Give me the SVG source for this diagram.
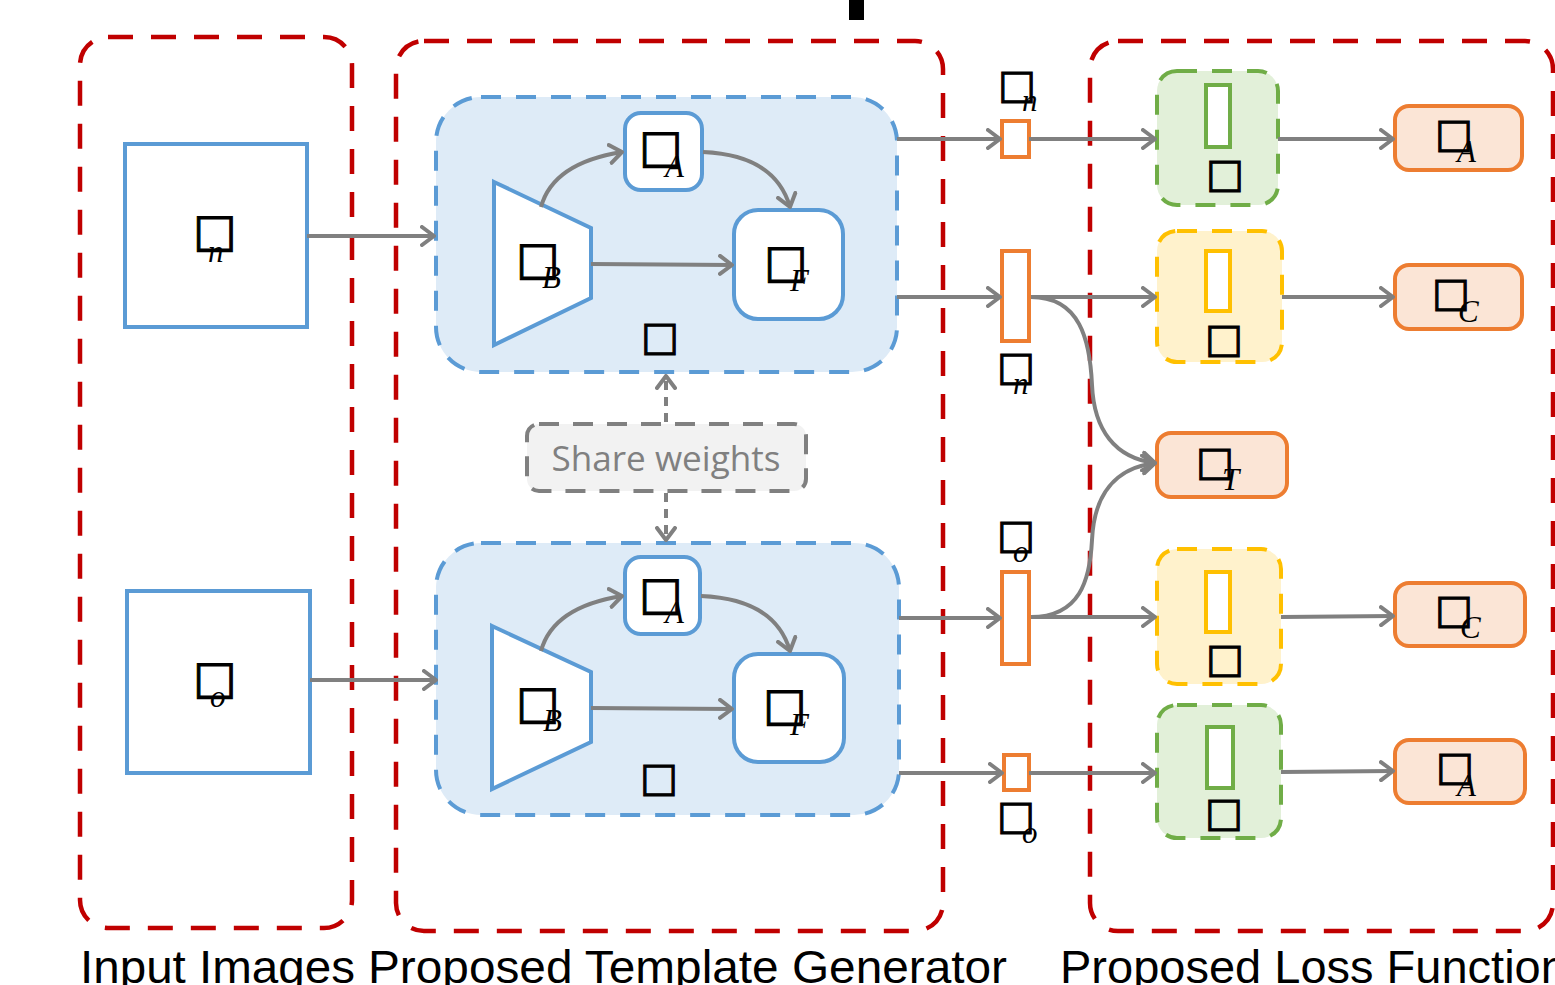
<svg xmlns="http://www.w3.org/2000/svg" width="1555" height="985" viewBox="0 0 1555 985">
<style>
.red{fill:none;stroke:#C00000;stroke-width:4.5;stroke-dasharray:25 18}
.blk{fill:#DEEBF7;stroke:#5B9BD5;stroke-width:4;stroke-dasharray:20 15}
.bl{fill:#FFFFFF;stroke:#5B9BD5;stroke-width:4}
.ln{fill:none;stroke:#808080;stroke-width:4}
.dln{fill:none;stroke:#808080;stroke-width:4;stroke-dasharray:9 7}
.vec{fill:#FFFFFF;stroke:#ED7D31;stroke-width:4}
.loss{fill:#FBE5D6;stroke:#ED7D31;stroke-width:4}
.gbox{fill:#E2F0D9;stroke:#70AD47;stroke-width:4;stroke-dasharray:20 15}
.ybox{fill:#FFF2CC;stroke:#FFC000;stroke-width:4;stroke-dasharray:20 15}
.gin{fill:#FFFFFF;stroke:#70AD47;stroke-width:4}
.yin{fill:#FFFFFF;stroke:#FFC000;stroke-width:4}
.tf{font-family:"DejaVu Sans",sans-serif;font-size:46px;fill:#000;stroke:#000;stroke-width:1.1;text-anchor:middle}
.ts{font-family:"DejaVu Sans",sans-serif;font-size:40px;fill:#000;stroke:#000;stroke-width:1.1;text-anchor:middle}
.sb{font-family:"Liberation Serif",serif;font-style:italic;font-size:31px;fill:#000}
.cap{font-family:"Liberation Sans",Arial,sans-serif;font-size:47px;fill:#000}
</style>
<defs>
<marker id="ah" viewBox="0 0 16 22" refX="14" refY="11" markerWidth="16" markerHeight="22" markerUnits="userSpaceOnUse" orient="auto">
<path d="M2,2 L14,11 L2,20" fill="none" stroke="#808080" stroke-width="4" stroke-linecap="round" stroke-linejoin="round"/>
</marker>
</defs>
<rect x="849" y="0" width="15" height="20" fill="#000"/>

<g id="containers">
<rect class="red" x="80" y="37" width="272" height="891" rx="28"/>
<rect class="red" x="396" y="41" width="547" height="890" rx="28"/>
<rect class="red" x="1090" y="41" width="463" height="890" rx="28"/>
</g>

<g id="input-n">
<rect class="bl" x="125" y="144" width="182" height="183"/>
<text class="tf" x="215" y="246">□</text><text class="sb" x="208" y="262">n</text>
</g>
<g id="input-o">
<rect class="bl" x="127" y="591" width="183" height="182"/>
<text class="tf" x="215" y="693">□</text><text class="sb" x="210" y="707">o</text>
</g>

<g id="generator-top">
<rect class="blk" x="436" y="97" width="461" height="275" rx="45"/>
<g id="enc-top"><polygon class="bl" points="494,182 591,228 591,298 494,345"/>
<text class="tf" x="538" y="274">□</text><text class="sb" x="542" y="288">B</text></g>
<g id="att-top"><rect class="bl" x="625" y="113" width="77" height="77" rx="16"/>
<text class="tf" x="661" y="162">□</text><text class="sb" x="665" y="177">A</text></g>
<g id="fus-top"><rect class="bl" x="734" y="210" width="109" height="109" rx="24"/>
<text class="tf" x="786" y="277">□</text><text class="sb" x="790" y="291">F</text></g>
<text class="ts" x="660" y="350">□</text>
</g>

<g id="generator-bottom">
<rect class="blk" x="436" y="543" width="463" height="272" rx="45"/>
<g id="enc-bot"><polygon class="bl" points="492,626 591,672 591,742 492,789"/>
<text class="tf" x="538" y="718">□</text><text class="sb" x="543" y="731">B</text></g>
<g id="att-bot"><rect class="bl" x="625" y="557" width="75" height="77" rx="16"/>
<text class="tf" x="661" y="609">□</text><text class="sb" x="665" y="623">A</text></g>
<g id="fus-bot"><rect class="bl" x="734" y="654" width="110" height="108" rx="24"/>
<text class="tf" x="785" y="720">□</text><text class="sb" x="790" y="735">F</text></g>
<text class="ts" x="659" y="791">□</text>
</g>

<g id="share-weights">
<rect x="527" y="424" width="279" height="67" rx="12" fill="#F2F2F2" stroke="#808080" stroke-width="4" stroke-dasharray="20 14"/>
<text x="666" y="471" font-family="'Open Sans',sans-serif" font-size="35" fill="#808080" text-anchor="middle" textLength="229" lengthAdjust="spacingAndGlyphs">Share weights</text>
</g>

<g id="vec-n-small"><rect class="vec" x="1002" y="121" width="27" height="36"/>
<text class="ts" x="1017" y="98">□</text><text class="sb" x="1022" y="111">n</text></g>
<g id="vec-n-tall"><rect class="vec" x="1002" y="251" width="27" height="90"/>
<text class="ts" x="1016" y="380">□</text><text class="sb" x="1013" y="394">n</text></g>
<g id="vec-o-tall"><rect class="vec" x="1002" y="572" width="27" height="92"/>
<text class="ts" x="1016" y="548">□</text><text class="sb" x="1013" y="562">o</text></g>
<g id="vec-o-small"><rect class="vec" x="1004" y="755" width="25" height="35"/>
<text class="ts" x="1016" y="829">□</text><text class="sb" x="1022" y="843">o</text></g>

<g id="cls-1"><rect class="gbox" x="1157" y="71" width="121" height="134" rx="20"/>
<rect class="gin" x="1206" y="85" width="24" height="62"/><text class="ts" x="1225" y="187">□</text></g>
<g id="cls-2"><rect class="ybox" x="1157" y="231" width="125" height="131" rx="20"/>
<rect class="yin" x="1206" y="251" width="24" height="60"/><text class="ts" x="1224" y="352">□</text></g>
<g id="cls-3"><rect class="ybox" x="1157" y="549" width="124" height="135" rx="20"/>
<rect class="yin" x="1206" y="572" width="24" height="60"/><text class="ts" x="1225" y="672">□</text></g>
<g id="cls-4"><rect class="gbox" x="1157" y="705" width="124" height="133" rx="20"/>
<rect class="gin" x="1207" y="727" width="26" height="61"/><text class="ts" x="1224" y="826">□</text></g>

<g id="loss-1"><rect class="loss" x="1395" y="106" width="127" height="64" rx="14"/>
<text class="ts" x="1454" y="147">□</text><text class="sb" x="1457" y="162">A</text></g>
<g id="loss-2"><rect class="loss" x="1395" y="265" width="127" height="64" rx="14"/>
<text class="ts" x="1451" y="306">□</text><text class="sb" x="1458" y="322">C</text></g>
<g id="loss-T"><rect class="loss" x="1157" y="433" width="130" height="64" rx="14"/>
<text class="ts" x="1215" y="475">□</text><text class="sb" x="1222" y="490">T</text></g>
<g id="loss-3"><rect class="loss" x="1395" y="583" width="130" height="63" rx="14"/>
<text class="ts" x="1454" y="623">□</text><text class="sb" x="1460" y="638">C</text></g>
<g id="loss-4"><rect class="loss" x="1395" y="740" width="130" height="63" rx="14"/>
<text class="ts" x="1455" y="780">□</text><text class="sb" x="1457" y="796">A</text></g>

<g id="connectors">
<path class="ln" d="M307,236 L434,236" marker-end="url(#ah)"/>
<path class="ln" d="M310,680 L436,680" marker-end="url(#ah)"/>
<path class="ln" d="M541,207 Q553,163 622,152" marker-end="url(#ah)"/>
<path class="ln" d="M703,152 Q775,155 790,207" marker-end="url(#ah)"/>
<path class="ln" d="M591,264 L732,265" marker-end="url(#ah)"/>
<path class="ln" d="M541,651 Q553,607 622,596" marker-end="url(#ah)"/>
<path class="ln" d="M701,596 Q775,599 790,651" marker-end="url(#ah)"/>
<path class="ln" d="M591,708 L732,709" marker-end="url(#ah)"/>
<path class="dln" d="M666,422 L666,376" marker-end="url(#ah)"/>
<path class="dln" d="M666,493 L666,540" marker-end="url(#ah)"/>
<path class="ln" d="M897,139 L1000,139" marker-end="url(#ah)"/>
<path class="ln" d="M897,297 L1000,297" marker-end="url(#ah)"/>
<path class="ln" d="M899,618 L1000,618" marker-end="url(#ah)"/>
<path class="ln" d="M899,773 L1002,773" marker-end="url(#ah)"/>
<path class="ln" d="M1029,139 L1155,139" marker-end="url(#ah)"/>
<path class="ln" d="M1031,297 L1155,297" marker-end="url(#ah)"/>
<path class="ln" d="M1031,617 L1155,617" marker-end="url(#ah)"/>
<path class="ln" d="M1029,773 L1155,773" marker-end="url(#ah)"/>
<path class="ln" d="M1031,297 C1080,297 1090,340 1092,385 C1094,430 1115,458 1155,463" marker-end="url(#ah)"/>
<path class="ln" d="M1031,617 C1080,617 1090,580 1092,540 C1094,495 1115,468 1155,463" marker-end="url(#ah)"/>
<path class="ln" d="M1278,139 L1393,139" marker-end="url(#ah)"/>
<path class="ln" d="M1282,297 L1393,297" marker-end="url(#ah)"/>
<path class="ln" d="M1281,617 L1393,616" marker-end="url(#ah)"/>
<path class="ln" d="M1281,772 L1393,771" marker-end="url(#ah)"/>
</g>

<g id="captions">
<text class="cap" x="80" y="983" textLength="275" lengthAdjust="spacingAndGlyphs">Input Images</text>
<text class="cap" x="368" y="983" textLength="639" lengthAdjust="spacingAndGlyphs">Proposed Template Generator</text>
<text class="cap" x="1060" y="983">Proposed Loss Function</text>
</g>
</svg>
